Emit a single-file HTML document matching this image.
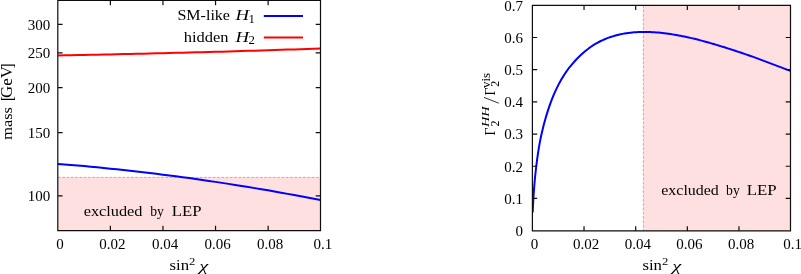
<!DOCTYPE html>
<html><head><meta charset="utf-8"><title>plot</title>
<style>html,body{margin:0;padding:0;background:#fff;}svg{display:block;will-change:transform;}text{font-family:"Liberation Serif",serif;fill:#000;}</style></head><body>
<svg width="801" height="274" viewBox="0 0 801 274">
<rect x="0" y="0" width="801" height="274" fill="#ffffff"/>
<defs><clipPath id="cl"><rect x="57.8" y="0.4" width="262.7" height="230.25"/></clipPath><clipPath id="cr"><rect x="532.4" y="5.3" width="258.2" height="225.3"/></clipPath></defs>
<rect x="57.8" y="177.4" width="262.7" height="53.25" fill="#ffe0e0"/>
<line x1="57.8" y1="177.4" x2="320.5" y2="177.4" stroke="#ff5858" stroke-width="0.6" stroke-dasharray="2.9 1.4"/>
<polyline clip-path="url(#cl)" fill="none" stroke="#ff0000" stroke-width="2" stroke-linejoin="round" points="57.8,55.4 64.37,55.28 70.94,55.17 77.5,55.04 84.07,54.92 90.64,54.79 97.2,54.66 103.77,54.53 110.34,54.39 116.91,54.25 123.47,54.11 130.04,53.97 136.61,53.82 143.18,53.67 149.75,53.51 156.31,53.36 162.88,53.2 169.45,53.03 176.01,52.87 182.58,52.7 189.15,52.53 195.72,52.36 202.29,52.18 208.85,52 215.42,51.82 221.99,51.63 228.56,51.44 235.12,51.25 241.69,51.06 248.26,50.86 254.82,50.66 261.39,50.46 267.96,50.25 274.53,50.04 281.09,49.83 287.66,49.62 294.23,49.4 300.8,49.18 307.36,48.96 313.93,48.73 320.5,48.5"/>
<polyline clip-path="url(#cl)" fill="none" stroke="#0000ff" stroke-width="2" stroke-linejoin="round" points="57.8,163.9 64.37,164.42 70.94,164.97 77.5,165.53 84.07,166.12 90.64,166.72 97.2,167.34 103.77,167.98 110.34,168.64 116.91,169.32 123.47,170.03 130.04,170.74 136.61,171.48 143.18,172.24 149.75,173.02 156.31,173.82 162.88,174.64 169.45,175.47 176.01,176.33 182.58,177.2 189.15,178.1 195.72,179.01 202.29,179.95 208.85,180.9 215.42,181.88 221.99,182.87 228.56,183.88 235.12,184.91 241.69,185.96 248.26,187.03 254.82,188.12 261.39,189.23 267.96,190.36 274.53,191.51 281.09,192.68 287.66,193.87 294.23,195.08 300.8,196.3 307.36,197.55 313.93,198.81 320.5,200.1"/>
<path d="M57.8,0.4H320.5V230.65H57.8ZM110.38,230.65v-4.8M110.38,0.4v4.8M162.96,230.65v-4.8M162.96,0.4v4.8M215.54,230.65v-4.8M215.54,0.4v4.8M268.12,230.65v-4.8M268.12,0.4v4.8M57.8,195.8h4.8M320.5,195.8h-4.8M57.8,132.55h4.8M320.5,132.55h-4.8M57.8,87.67h4.8M320.5,87.67h-4.8M57.8,52.86h4.8M320.5,52.86h-4.8M57.8,24.42h4.8M320.5,24.42h-4.8" fill="none" stroke="#0d0d0d" stroke-width="1.2"/>
<text x="50.3" y="201.2" font-size="15" text-anchor="end">100</text>
<text x="50.3" y="137.95" font-size="15" text-anchor="end">150</text>
<text x="50.3" y="93.07" font-size="15" text-anchor="end">200</text>
<text x="50.3" y="58.26" font-size="15" text-anchor="end">250</text>
<text x="50.3" y="29.82" font-size="15" text-anchor="end">300</text>
<text x="59.9" y="249.4" font-size="15" text-anchor="middle">0</text>
<text x="112.48" y="249.4" font-size="15" text-anchor="middle">0.02</text>
<text x="165.06" y="249.4" font-size="15" text-anchor="middle">0.04</text>
<text x="217.64" y="249.4" font-size="15" text-anchor="middle">0.06</text>
<text x="270.22" y="249.4" font-size="15" text-anchor="middle">0.08</text>
<text x="322.8" y="249.4" font-size="15" text-anchor="middle">0.1</text>
<text x="177.4" y="20.1" font-size="15" textLength="52.6" lengthAdjust="spacingAndGlyphs">SM-like</text>
<text x="235.4" y="20.1" font-size="15" textLength="13.6" lengthAdjust="spacingAndGlyphs" font-style="italic">H</text>
<text x="248.6" y="22.6" font-size="11.5" textLength="6.4" lengthAdjust="spacingAndGlyphs">1</text>
<text x="183.8" y="41.6" font-size="15" textLength="44.8" lengthAdjust="spacingAndGlyphs">hidden</text>
<text x="235.4" y="41.6" font-size="15" textLength="13.6" lengthAdjust="spacingAndGlyphs" font-style="italic">H</text>
<text x="248.6" y="44.1" font-size="11.5" textLength="6.4" lengthAdjust="spacingAndGlyphs">2</text>
<line x1="263.8" y1="16" x2="303" y2="16" stroke="#0000ff" stroke-width="2"/>
<line x1="263.8" y1="37.4" x2="303" y2="37.4" stroke="#ff0000" stroke-width="2"/>
<text x="83.7" y="216" font-size="15" textLength="58.8" lengthAdjust="spacingAndGlyphs">excluded</text>
<text x="150.2" y="216" font-size="15" textLength="13.7" lengthAdjust="spacingAndGlyphs">by</text>
<text x="171.7" y="216" font-size="15" textLength="29.8" lengthAdjust="spacingAndGlyphs">LEP</text>
<text x="169.5" y="270.2" font-size="15" textLength="19.6" lengthAdjust="spacingAndGlyphs">sin</text>
<text x="189.1" y="265" font-size="11" textLength="6.3" lengthAdjust="spacingAndGlyphs">2</text>
<text x="199.3" y="270.8" font-size="15" textLength="9" lengthAdjust="spacingAndGlyphs" font-style="italic">χ</text>
<g transform="translate(11.5,139.7) rotate(-90)">
<text x="0" y="0" font-size="15.5" textLength="32.6" lengthAdjust="spacingAndGlyphs">mass</text>
<text x="38.6" y="1" font-size="17.5" textLength="4.8" lengthAdjust="spacingAndGlyphs">[</text>
<text x="41.8" y="0" font-size="16" textLength="32" lengthAdjust="spacingAndGlyphs">GeV</text>
<text x="71.4" y="1" font-size="17.5" textLength="4.8" lengthAdjust="spacingAndGlyphs">]</text>
</g>
<rect x="643.4" y="5.3" width="147.1" height="225.65" fill="#ffe0e0"/>
<line x1="643.4" y1="5.3" x2="643.4" y2="230.6" stroke="#ff5858" stroke-width="0.6" stroke-dasharray="2.9 1.4"/>
<path clip-path="url(#cr)" d="M532.71,212.48 L532.9,207.61 L533.15,202.48 L533.4,198.18 L533.89,190.99 L534.36,184.98 L534.82,179.73 L535.28,175.02 L536.18,166.75 L537.1,159.58 L538.02,153.2 L538.94,147.42 L539.87,142.13 L540.83,137.24 L541.83,132.71 L543.84,124.48 L545.86,117.17 L547.89,110.6 L549.93,104.64 L551.97,99.2 L554.01,94.21 L556.07,89.63 L558.14,85.39 L560.22,81.48 L562.3,77.85 L564.39,74.49 L566.49,71.37 L568.61,68.49 L570.74,65.82 L572.83,63.31 L574.91,60.97 L576.98,58.79 L579.04,56.75 L581.07,54.84 L583.07,53.02 L585.05,51.29 L587.02,49.68 L588.99,48.17 L590.97,46.76 L592.94,45.44 L594.92,44.21 L596.89,43.06 L598.86,42 L600.83,41 L602.8,40.07 L604.77,39.21 L606.74,38.41 L608.71,37.66 L610.68,36.98 L612.65,36.35 L614.63,35.77 L616.6,35.24 L618.57,34.75 L620.55,34.3 L622.52,33.89 L624.5,33.51 L626.48,33.19 L628.46,32.9 L630.45,32.66 L632.44,32.46 L634.43,32.31 L636.42,32.18 L638.41,32.09 L640.4,32.02 L642.4,31.98 L644.39,31.97 L646.39,31.98 L648.39,32.02 L650.39,32.08 L652.39,32.17 L654.39,32.28 L656.39,32.42 L658.4,32.59 L660.4,32.78 L662.4,33 L664.41,33.24 L666.41,33.49 L668.42,33.76 L670.42,34.06 L672.43,34.37 L674.44,34.69 L676.44,35.04 L678.45,35.4 L680.45,35.77 L682.46,36.17 L684.47,36.57 L686.47,37 L688.48,37.43 L690.48,37.89 L692.49,38.35 L694.49,38.83 L696.5,39.33 L698.5,39.84 L700.5,40.36 L702.5,40.89 L704.51,41.43 L706.51,41.99 L708.51,42.55 L710.51,43.12 L712.51,43.7 L714.51,44.28 L716.51,44.88 L718.52,45.48 L720.52,46.09 L722.52,46.71 L724.52,47.33 L726.52,47.96 L728.52,48.6 L730.52,49.24 L732.52,49.89 L734.52,50.54 L736.53,51.2 L738.53,51.87 L740.53,52.54 L742.53,53.22 L744.53,53.9 L746.53,54.58 L748.53,55.27 L750.53,55.97 L752.53,56.67 L754.52,57.39 L756.52,58.12 L758.51,58.86 L760.5,59.6 L762.49,60.35 L764.48,61.1 L766.47,61.86 L768.46,62.61 L770.45,63.36 L772.44,64.11 L774.44,64.86 L776.43,65.62 L778.43,66.37 L780.42,67.13 L782.42,67.89 L784.41,68.65 L786.41,69.42 L788.4,70.18 L790.4,70.94 L790.6,71.02" fill="none" stroke="#0000ff" stroke-width="2" stroke-linejoin="round"/>
<path d="M532.4,5.3H790.5V230.95H532.4ZM584.04,230.95v-4.8M584.04,5.3v4.8M635.68,230.95v-4.8M635.68,5.3v4.8M687.32,230.95v-4.8M687.32,5.3v4.8M738.96,230.95v-4.8M738.96,5.3v4.8M532.4,198.41h4.8M790.5,198.41h-4.8M532.4,166.23h4.8M790.5,166.23h-4.8M532.4,134.04h4.8M790.5,134.04h-4.8M532.4,101.86h4.8M790.5,101.86h-4.8M532.4,69.67h4.8M790.5,69.67h-4.8M532.4,37.49h4.8M790.5,37.49h-4.8" fill="none" stroke="#0d0d0d" stroke-width="1.2"/>
<text x="523" y="236" font-size="15" text-anchor="end">0</text>
<text x="523" y="203.81" font-size="15" text-anchor="end">0.1</text>
<text x="523" y="171.63" font-size="15" text-anchor="end">0.2</text>
<text x="523" y="139.44" font-size="15" text-anchor="end">0.3</text>
<text x="523" y="107.26" font-size="15" text-anchor="end">0.4</text>
<text x="523" y="75.07" font-size="15" text-anchor="end">0.5</text>
<text x="523" y="42.89" font-size="15" text-anchor="end">0.6</text>
<text x="523" y="10.7" font-size="15" text-anchor="end">0.7</text>
<text x="534.5" y="249.4" font-size="15" text-anchor="middle">0</text>
<text x="586.14" y="249.4" font-size="15" text-anchor="middle">0.02</text>
<text x="637.78" y="249.4" font-size="15" text-anchor="middle">0.04</text>
<text x="689.42" y="249.4" font-size="15" text-anchor="middle">0.06</text>
<text x="741.06" y="249.4" font-size="15" text-anchor="middle">0.08</text>
<text x="792.7" y="249.4" font-size="15" text-anchor="middle">0.1</text>
<text x="661.3" y="194.7" font-size="15" textLength="57.5" lengthAdjust="spacingAndGlyphs">excluded</text>
<text x="726.1" y="194.7" font-size="15" textLength="13.7" lengthAdjust="spacingAndGlyphs">by</text>
<text x="746.7" y="194.7" font-size="15" textLength="30" lengthAdjust="spacingAndGlyphs">LEP</text>
<text x="642.4" y="270.2" font-size="15" textLength="19.6" lengthAdjust="spacingAndGlyphs">sin</text>
<text x="662" y="265" font-size="11" textLength="6.3" lengthAdjust="spacingAndGlyphs">2</text>
<text x="672.2" y="270.8" font-size="15" textLength="9" lengthAdjust="spacingAndGlyphs" font-style="italic">χ</text>
<g transform="translate(495.2,135.4) rotate(-90)">
<text x="-0.2" y="0" font-size="15.5" textLength="8" lengthAdjust="spacingAndGlyphs">Γ</text>
<text x="9" y="3.8" font-size="11.5" textLength="6" lengthAdjust="spacingAndGlyphs">2</text>
<text x="8.4" y="-6.1" font-size="11" textLength="20.6" lengthAdjust="spacingAndGlyphs" font-style="italic">HH</text>
<line x1="32.2" y1="3.6" x2="38" y2="-11.2" stroke="#000" stroke-width="0.8"/>
<text x="39.9" y="0" font-size="15.5" textLength="8" lengthAdjust="spacingAndGlyphs">Γ</text>
<text x="48.7" y="3.8" font-size="11.5" textLength="6" lengthAdjust="spacingAndGlyphs">2</text>
<text x="47.3" y="-4.8" font-size="11.5" textLength="15.2" lengthAdjust="spacingAndGlyphs">vis</text>
</g>
</svg></body></html>
